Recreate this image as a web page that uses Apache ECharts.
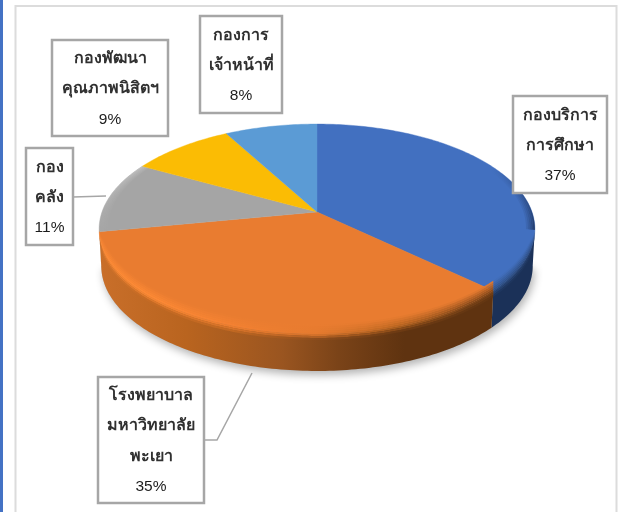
<!DOCTYPE html>
<html>
<head>
<meta charset="utf-8">
<style>html,body{margin:0;padding:0;background:#fff}#chart{width:620px;height:512px}</style>
<script src="https://cdn.jsdelivr.net/npm/echarts@6/dist/echarts.min.js"></script>
</head>
<body>
<div id="chart"></div>
<script>
// Budget share by unit, drawn as a tilted 3D pie with call-out boxes.
const categories = ['กองบริการ\nการศึกษา', 'โรงพยาบาล\nมหาวิทยาลัย\nพะเยา', 'กองคลัง', 'กองพัฒนา\nคุณภาพนิสิตฯ', 'กองการ\nเจ้าหน้าที่'];
const labelLines = [['กองบริการ', 'การศึกษา'], ['โรงพยาบาล', 'มหาวิทยาลัย', 'พะเยา'], ['กอง', 'คลัง'], ['กองพัฒนา', 'คุณภาพนิสิตฯ'], ['กองการ', 'เจ้าหน้าที่']];
const shares = [37, 35, 11, 9, 8];

// Slice colours: top face, then the wall gradient left to right across the pie.
const faceColors = ['#4270c0', '#e97c30', '#a5a5a5', '#fbbc04', '#5b9bd5'];
const wallStops = {
  0: [[0, '#1b3158'], [1, '#1b3158']],
  1: [[0, '#c96f2a'], [0.2, '#b9641f'], [0.42, '#9a5520'], [0.55, '#7a4318'], [0.7, '#5f3310'], [1, '#5f3310']],
  2: [[0, '#8f8f8f'], [1, '#8f8f8f']]
};
// Colour at the edge of the top face, where it rolls over into the wall.
const rimStops = {
  0: [[0, '#3a66ae'], [0.85, '#33588f'], [1, '#2a4778']],
  1: [[0, '#ff8c35'], [0.12, '#ff8a34'], [0.3, '#f58232'], [0.5, '#e57a2e'], [0.68, '#b8651f'], [0.85, '#83481a'], [1, '#7a4216']],
  2: [[0, '#b5b5b5'], [1, '#b5b5b5']]
};

// Label box geometry, in page pixels.
const boxes = [
  { x: 513, y: 96, w: 94, h: 97, lead: null },
  { x: 98, y: 377, w: 106, h: 126, lead: [[205, 440], [217, 440], [252, 373]] },
  { x: 26, y: 148, w: 47, h: 97, lead: [[73, 197], [106, 196]] },
  { x: 52, y: 40, w: 116, h: 96, lead: null },
  { x: 200, y: 16, w: 82, h: 97, lead: null }
];
const lineStep = 30.3;

// Pie projection: a circle in perspective, apex above the outline's middle.
const apexX = 317, apexY = 212, radX = 215, persp = 0.162, radY = 102.2, depth = 37;
const project = (deg, scale) => {
  const a = deg * Math.PI / 180, s = scale == null ? 1 : scale;
  const x = Math.sin(a) * s, y = -Math.cos(a) * s, w = 1 - persp * y;
  return [apexX + radX * x / w, apexY + radY * y / w];
};
const frontFrom = Math.acos(-persp) * 180 / Math.PI, frontTo = 360 - frontFrom;
const cumulative = shares.reduce((acc, v) => acc.concat(acc[acc.length - 1] + v), [0]);
const total = cumulative[cumulative.length - 1];
const sliceRange = i => [cumulative[i] / total * 360, cumulative[i + 1] / total * 360];
const arc = (from, to, fn) => {
  const n = Math.max(2, Math.ceil(Math.abs(to - from)));
  const pts = [];
  for (let k = 0; k <= n; k++) pts.push(fn(from + (to - from) * k / n));
  return pts;
};
const hex = c => [1, 3, 5].map(k => parseInt(c.substr(k, 2), 16));
const mix = (a, b, t) => {
  const A = hex(a), B = hex(b);
  return '#' + A.map((v, k) => Math.round(v + (B[k] - v) * t).toString(16).padStart(2, '0')).join('');
};
const hGrad = stops => new echarts.graphic.LinearGradient(99, 0, 535, 0,
  stops.map(s => ({ offset: s[0], color: s[1] })), true);
const wallPoint = d => { const p = project(d); return [apexX + (p[0] - apexX) * 0.99, p[1] + depth]; };

// Ground shadow beneath the pie.
const renderShadow = () => ({
  type: 'polygon', silent: true,
  shape: { points: arc(frontFrom, frontTo, wallPoint).concat([[apexX, apexY]]) },
  style: { fill: '#bbb', shadowColor: 'rgba(0,0,0,0.3)', shadowBlur: 8, shadowOffsetY: 4, shadowOffsetX: 2 }
});

// Visible front wall of one slice.
const renderWall = (params) => {
  const i = params.dataIndex, r = sliceRange(i);
  const from = Math.max(r[0], frontFrom), to = Math.min(r[1], frontTo);
  if (to <= from) return null;
  const top = arc(from, to, d => project(d));
  return { type: 'polygon', silent: true, shape: { points: top.concat(arc(to, from, wallPoint)) }, style: { fill: hGrad(wallStops[i]) } };
};

// Top face of one slice.
const renderFace = (params) => {
  const i = params.dataIndex, r = sliceRange(i);
  return {
    type: 'polygon', silent: true,
    shape: { points: [[apexX, apexY]].concat(arc(r[0], r[1], d => project(d))) },
    style: { fill: faceColors[i], stroke: faceColors[i], lineWidth: 0.4 }
  };
};

// The band narrows to nothing where the outline turns away at the sides.
const edgeFade = d => Math.min(1, Math.min(d - frontFrom, frontTo - d) / 14 + 0.15);

// Soft rolled edge along the front of the top face.
const bandLevels = [-10, -8, -6, -4, -2, 0, 2, 4, 6];
const renderRim = (params) => {
  const i = params.dataIndex, r = sliceRange(i);
  const from = Math.max(r[0], frontFrom), to = Math.min(r[1], frontTo);
  if (to <= from) return null;
  const children = [];
  for (let k = 0; k < bandLevels.length - 1; k++) {
    const a = bandLevels[k], b = bandLevels[k + 1], mid = (a + b) / 2;
    const stops = rimStops[i].map(s => {
      const wall = wallStops[i];
      const wc = wall.reduce((best, w) => Math.abs(w[0] - s[0]) < Math.abs(best[0] - s[0]) ? w : best, wall[0])[1];
      const col = mid < 0 ? mix(faceColors[i], s[1], (mid + 10) / 10) : mix(s[1], wc, mid / 6);
      return [s[0], col];
    });
    const upper = arc(from, to, d => { const p = project(d); return [p[0], p[1] + a * edgeFade(d)]; });
    const lower = arc(to, from, d => { const p = project(d); return [p[0], p[1] + b * edgeFade(d)]; });
    children.push({ type: 'polygon', silent: true, shape: { points: upper.concat(lower) }, style: { fill: hGrad(stops) } });
  }
  return { type: 'group', children };
};

// Thin inner shading along the back edges of the outline.
const renderBackEdge = (params) => {
  const i = params.dataIndex, r = sliceRange(i);
  const conf = { 0: [62, frontFrom + 0.5, '#1e3560', 0.85], 2: [r[0], r[1], '#d0d0d0', 0.6] }[i];
  if (!conf) return null;
  const steps = 5, children = [];
  for (let k = 0; k < steps; k++) {
    const s0 = 1 - k * 0.008, s1 = 1 - (k + 1) * 0.008;
    const from = conf[0], to = conf[1];
    const upper = arc(from, to, d => project(d, s0));
    const lower = arc(to, from, d => project(d, s1));
    children.push({
      type: 'polygon', silent: true, shape: { points: upper.concat(lower) },
      style: {
        fill: new echarts.graphic.LinearGradient(project(from)[0], project(from)[1], project(to)[0], project(to)[1], [
          { offset: 0, color: echarts.color.modifyAlpha(conf[2], 0) },
          { offset: 1, color: echarts.color.modifyAlpha(conf[2], conf[3] * (1 - k / steps)) }
        ], true)
      }
    });
  }
  return { type: 'group', children };
};

// Call-out box with name lines, percentage and optional leader.
const nameFont = 'bold 16px "Liberation Sans", "Noto Sans", sans-serif';
const valueFont = '15.5px "Liberation Sans", "Noto Sans", sans-serif';
const renderLabel = (params, api) => {
  const i = params.dataIndex, b = boxes[i], names = labelLines[i], lines = names.concat(api.value(0) + '%');
  const children = [];
  if (b.lead) children.push({ type: 'polyline', silent: true, shape: { points: b.lead }, style: { fill: null, stroke: '#a6a6a6', lineWidth: 1.5 } });
  children.push({ type: 'rect', silent: true, shape: { x: b.x, y: b.y, width: b.w, height: b.h }, style: { fill: '#fff', stroke: '#a6a6a6', lineWidth: 2.5 } });
  const startY = b.y + b.h / 2 - (lines.length - 1) * lineStep / 2 + 1;
  lines.forEach((t, k) => children.push({
    type: 'text', silent: true,
    style: {
      x: b.x + b.w / 2, y: startY + k * lineStep, text: t, align: 'center', verticalAlign: 'middle',
      font: k < names.length ? nameFont : valueFont, fill: k < names.length ? '#303030' : '#1c1c1c'
    }
  }));
  return { type: 'group', children };
};

const sliceData = shares.map((v, i) => ({ value: v, name: categories[i] }));
const layer = (renderItem, z, data) => ({ type: 'custom', coordinateSystem: 'none', renderItem, data: data || sliceData, z, silent: true, animation: false, clip: false });

const chart = echarts.init(document.getElementById('chart'), null, { renderer: 'canvas' });
chart.setOption({
  animation: false,
  backgroundColor: '#ffffff',
  graphic: [
    { type: 'rect', silent: true, z: 0, shape: { x: 0, y: 0, width: 3, height: 512 }, style: { fill: '#4472c4' } },
    { type: 'rect', silent: true, z: 0, shape: { x: 15.5, y: 6, width: 601, height: 520 }, style: { fill: '#fff', stroke: '#dcdcdc', lineWidth: 2 } }
  ],
  series: [
    layer(renderShadow, 1, [1]),
    layer(renderWall, 2),
    layer(renderFace, 3),
    layer(renderRim, 4),
    layer(renderBackEdge, 5),
    layer(renderLabel, 6)
  ]
});
</script>
</body>
</html>
